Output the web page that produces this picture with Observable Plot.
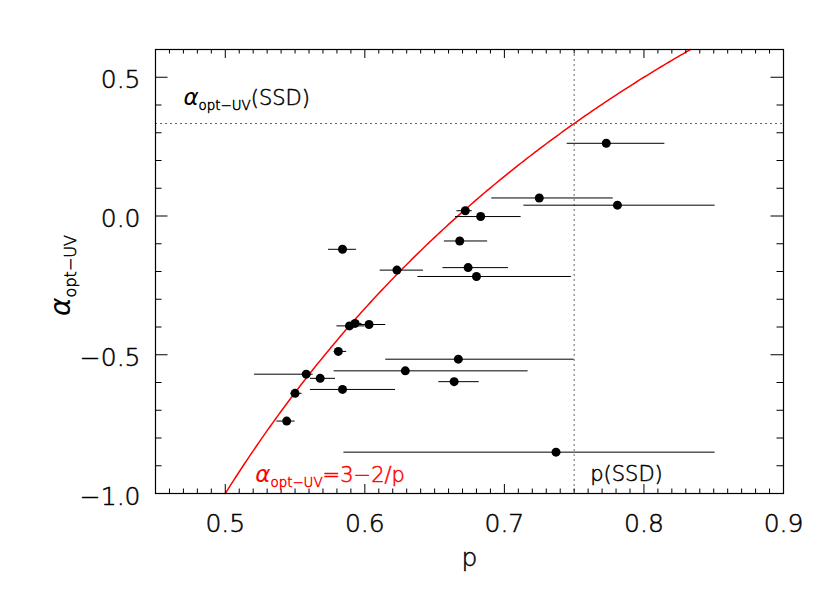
<!DOCTYPE html>
<html>
<head>
<meta charset="utf-8">
<script src="https://cdn.jsdelivr.net/npm/d3@7"></script>
<script src="https://cdn.jsdelivr.net/npm/@observablehq/plot@0.6"></script>
<style>
  html, body { margin: 0; padding: 0; background: #fff; }
</style>
</head>
<body>
<div id="chart"></div>
<script>
// ---- data ----
const pValues     = [0.773, 0.725, 0.781, 0.672, 0.683, 0.584, 0.668, 0.623, 0.674, 0.680, 0.589, 0.593, 0.603, 0.581, 0.667, 0.629, 0.558, 0.568, 0.664, 0.584, 0.550, 0.544, 0.737];
const pLow        = [0.745, 0.691, 0.714, 0.666, 0.665, 0.574, 0.657, 0.611, 0.656, 0.638, 0.580, 0.588, 0.592, 0.578, 0.615, 0.578, 0.521, 0.561, 0.653, 0.561, 0.547, 0.537, 0.585];
const pHigh       = [0.815, 0.778, 0.851, 0.677, 0.712, 0.594, 0.688, 0.642, 0.703, 0.748, 0.600, 0.598, 0.615, 0.587, 0.750, 0.717, 0.563, 0.579, 0.682, 0.622, 0.555, 0.550, 0.851];
const alphaValues = [0.262, 0.065, 0.039, 0.019, -0.002, -0.120, -0.090, -0.195, -0.186, -0.218, -0.396, -0.387, -0.391, -0.488, -0.516, -0.558, -0.570, -0.585, -0.597, -0.625, -0.639, -0.739, -0.851];

const xTickLabels = [0.5, 0.6, 0.7, 0.8, 0.9];
const yTickLabels = [-1.0, -0.5, 0.0, 0.5];
const xDomain = [0.45, 0.9];
const yDomain = [-1.0, 0.6];
const pSSD = 0.75;
const alphaSSD = 1 / 3;

// ---- layout ----
const W = 830, H = 593;
const mL = 155, mR = 47, mT = 49, mB = 100;
const innerW = W - mL - mR, innerH = H - mT - mB;

const points = pValues.map((p, i) => ({p, lo: pLow[i], hi: pHigh[i], alpha: alphaValues[i]}));

// model curve alpha = 3 - 2/p, within the frame
const pEnd = 2 / (3 - yDomain[1]);
const curve = d3.range(0.5, pEnd, 0.002).concat([pEnd]).map(p => ({p, a: 3 - 2 / p}));

// axis ticks
const xMajor = xTickLabels;
const xMinor = d3.range(46, 90).map(i => i / 100).filter(v => !xMajor.some(m => Math.abs(m - v) < 1e-9));
const yMajor = yTickLabels;
const yMinor = d3.range(-9, 6).map(i => i / 10).filter(v => !yMajor.some(m => Math.abs(m - v) < 1e-9));

const xMaj = 9, xMin = 4.5, yMaj = 12.5, yMin = 6.5;

const labels = [
  {p: 0.470, a: 0.399, t: "α_{opt−UV}(SSD)", c: "black"},
  {p: 0.5215, a: -0.958, t: "α_{opt−UV}=3−2/p", c: "red"},
  {p: 0.7615, a: -0.955, t: "p(SSD)", c: "black"}
];

const chart = Plot.plot({
  width: W, height: H,
  marginLeft: mL, marginRight: mR, marginTop: mT, marginBottom: mB,
  x: {domain: xDomain, label: null},
  y: {domain: yDomain, label: null},
  style: {fontFamily: "'DejaVu Sans', sans-serif", fontWeight: 300, background: "white", color: "black"},
  marks: [
    // dotted reference lines
    Plot.ruleY([alphaSSD], {stroke: "#666", strokeWidth: 1, strokeDasharray: "2,3"}),
    Plot.ruleX([pSSD], {stroke: "#666", strokeWidth: 1, strokeDasharray: "2,3"}),
    // model curve
    Plot.line(curve, {x: "p", y: "a", stroke: "#ff0000", strokeWidth: 1.5}),
    // error bars & points
    Plot.ruleY(points, {y: "alpha", x1: "lo", x2: "hi", stroke: "black", strokeWidth: 1}),
    Plot.dot(points, {x: "p", y: "alpha", r: 4.5, fill: "black", stroke: "none"}),
    // inward ticks, all four sides
    Plot.ruleX(xMajor, {x: d => d, insetTop: innerH - xMaj, stroke: "black"}),
    Plot.ruleX(xMajor, {x: d => d, insetBottom: innerH - xMaj, stroke: "black"}),
    Plot.ruleX(xMinor, {x: d => d, insetTop: innerH - xMin, stroke: "black"}),
    Plot.ruleX(xMinor, {x: d => d, insetBottom: innerH - xMin, stroke: "black"}),
    Plot.ruleY(yMajor, {y: d => d, insetRight: innerW - yMaj, stroke: "black"}),
    Plot.ruleY(yMajor, {y: d => d, insetLeft: innerW - yMaj, stroke: "black"}),
    Plot.ruleY(yMinor, {y: d => d, insetRight: innerW - yMin, stroke: "black"}),
    Plot.ruleY(yMinor, {y: d => d, insetLeft: innerW - yMin, stroke: "black"}),
    Plot.frame({stroke: "black", strokeWidth: 1.2}),
    // tick labels
    Plot.axisX({ticks: xTickLabels, tickSize: 0, tickPadding: 21, tickFormat: d3.format(".1f"), fontSize: 25, label: null}),
    Plot.axisY({ticks: yTickLabels, tickSize: 0, tickPadding: 15, tickFormat: d3.format(".1f"), fontSize: 25, dy: 3, label: null}),
    // annotations
    Plot.text(labels, {x: "p", y: "a", text: "t", fill: "c", textAnchor: "start", lineAnchor: "bottom", fontSize: 21}),
    // axis titles
    Plot.text(["p"], {frameAnchor: "bottom", dy: 72, text: d => d, fontSize: 25, lineAnchor: "bottom"}),
    Plot.text(["α_{opt−UV}"], {frameAnchor: "left", textAnchor: "middle", dx: -86, dy: 4, rotate: -90, text: d => d, fontSize: 25, lineAnchor: "bottom"})
  ]
});

// turn "_{...}" into real subscript tspans; Greek alpha drawn italic
chart.querySelectorAll("text").forEach(el => {
  const s = el.textContent;
  if (!s.includes("_{")) return;
  const fs = parseFloat(el.getAttribute("font-size") || el.parentNode.getAttribute("font-size") || 21);
  const subSize = Math.round(fs * 0.64 * 10) / 10;
  const shift = Math.round(fs * 0.24 * 10) / 10;
  const re = /_\{([^}]*)\}/g;
  let last = 0, m;
  const parts = [];
  while ((m = re.exec(s))) {
    if (m.index > last) parts.push({t: s.slice(last, m.index), sub: false});
    parts.push({t: m[1], sub: true});
    last = re.lastIndex;
  }
  if (last < s.length) parts.push({t: s.slice(last), sub: false});
  el.textContent = "";
  let shifted = false;
  parts.forEach(pt => {
    const ts = document.createElementNS("http://www.w3.org/2000/svg", "tspan");
    ts.textContent = pt.t;
    if (pt.t === "α") { ts.setAttribute("font-style", "italic"); ts.setAttribute("font-size", Math.round(fs * 1.1)); }
    if (pt.sub) {
      ts.setAttribute("font-size", subSize);
      ts.setAttribute("dy", shift);
      shifted = true;
    } else if (shifted) {
      ts.setAttribute("dy", -shift);
      shifted = false;
    }
    el.appendChild(ts);
  });
});

document.getElementById("chart").appendChild(chart);

// slightly thicken the light glyphs with an outline of their own colour
chart.querySelectorAll("text").forEach(el => {
  const f = getComputedStyle(el).fill;
  el.setAttribute("stroke", f);
  el.setAttribute("stroke-width", 0.5);
  el.querySelectorAll("tspan").forEach(ts => {
    if (ts.getAttribute("font-style") === "italic") ts.setAttribute("stroke-width", 0);
  });
});
</script>
</body>
</html>
